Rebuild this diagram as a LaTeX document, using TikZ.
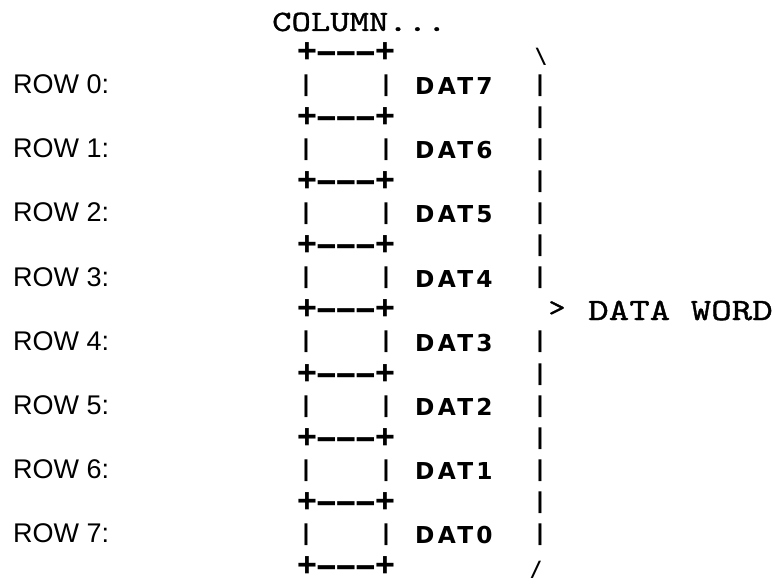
\documentclass[tikz,border=0pt]{standalone}
\usepackage{graphicx}
\usepackage{fontspec}
\setmainfont{Liberation Sans}
\newfontfamily\rowfont{Liberation Sans}
\newfontfamily\sepfont{Liberation Mono}
\newfontfamily\slashfont{DejaVu Sans Mono}
\newfontfamily\courfont[Extension=.otf, FakeStretch=1.25, FakeBold=1.2]{lmmono10-regular}
\newfontfamily\wordfont[Extension=.otf, FakeStretch=1.26, FakeBold=1.2]{lmmono10-regular}
\newfontfamily\datfont[LetterSpace=14]{DejaVu Sans}
\newcommand\sephy{\makebox[19.5pt]{\scalebox{1.8}[1]{-}}}
\newcommand\seppl{\makebox[19.5pt]{+}}
\newcommand\sepstr{\seppl\sephy\sephy\sephy\seppl}
\begin{document}
\begin{tikzpicture}[x=1pt,y=-1pt,
  rowlab/.style={anchor=base west, inner sep=0pt, font=\rowfont\fontsize{27}{32}\selectfont},
  datlab/.style={anchor=base west, inner sep=0pt, font=\datfont\bfseries\fontsize{23.3}{28}\selectfont},
  sepline/.style={anchor=base, inner sep=0pt, font=\sepfont\bfseries\fontsize{34}{40}\selectfont},
  barch/.style={anchor=base, inner sep=0pt, font=\rowfont\bfseries\fontsize{23}{26}\selectfont},
  bracech/.style={anchor=base, inner sep=0pt, font=\slashfont\bfseries\fontsize{21}{25}\selectfont},
  headtxt/.style={anchor=base west, inner sep=0pt, font=\courfont\fontsize{29.5}{34}\selectfont},
  wordtxt/.style={anchor=base west, inner sep=0pt, font=\wordfont\fontsize{31}{36}\selectfont},
]
\fill[white] (0,0) rectangle (776,578);
\useasboundingbox (0,0) rectangle (776,578);

\node[headtxt] (col) at (272,31) {COLUMN...};

% separators
\foreach \j in {0,...,8}{
  \pgfmathsetmacro\sy{53+64.2*\j+10}
  \node[sepline] (sep\j) at (346,\sy) {\sepstr};
}

% rows
\foreach \i in {0,...,7}{
  \pgfmathsetmacro\ry{85+64.2*\i}
  \pgfmathtruncatemacro\d{7-\i}
  \node[rowlab] (row\i) at (13,{\ry+9.5-1}) {ROW \i:};
  \node[barch] (lb\i) at (306,{\ry+6}) {|};
  \node[barch] (rb\i) at (386,{\ry+6}) {|};
  \node[datlab] (dat\i) at (415,{\ry+8.5+1}) {DAT\d};
  \node[barch] (cb\i) at (540,{\ry+6}) {|};
}

% right brace column on separator lines
\foreach \j in {1,2,3,5,6,7}{
  \pgfmathsetmacro\sy{53+64.2*\j+6}
  \node[barch] (cs\j) at (540,\sy) {|};
}
\node[bracech] (topbr) at (541,63.5) {\textbackslash};
\node[bracech, font=\courfont\fontsize{26}{30}\selectfont] (gt) at (557,{53+64.2*4+6}) {>};
\node[bracech] (botbr) at (536,576) {/};

\node[wordtxt] (dw) at (588,320) {DATA WORD};
\end{tikzpicture}
\end{document}
